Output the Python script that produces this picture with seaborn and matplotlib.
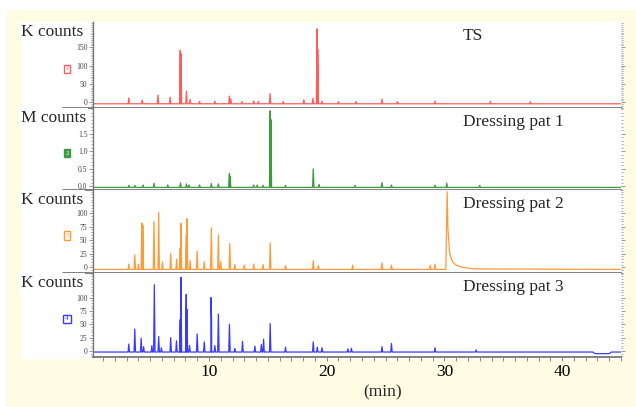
import matplotlib
matplotlib.use("Agg")
import matplotlib.pyplot as plt
import pandas as pd
import seaborn as sns
from matplotlib.patches import Rectangle
from matplotlib.lines import Line2D
from matplotlib.ticker import MultipleLocator, FormatStrFormatter

# peak retention times (min) and heights
ts_t = [3.19, 4.33, 5.67, 6.70, 7.56, 7.62, 8.09, 8.4, 9.2, 10.5, 11.74, 11.85, 12.8,
        13.8, 14.2, 15.19, 16.3, 18.06, 18.83, 19.18, 19.24, 19.6, 21.0, 22.5, 24.7,
        26.0, 29.2, 33.9, 37.3]
ts_h = [12, 6, 20, 14, 142, 133, 31, 8, 3, 3, 17, 9, 2,
        4, 3, 24, 2, 7, 11, 200, 145, 3, 2, 2, 9,
        2, 3, 3, 2]

p1_t = [3.2, 3.7, 4.4, 5.33, 6.5, 7.58, 8.09, 8.3, 9.2, 10.2, 10.8, 11.74, 11.8, 13.8,
        14.1, 14.6, 15.2, 15.26, 16.5, 18.86, 19.35, 22.4, 24.7, 25.5, 29.2, 30.2, 33.0]
p1_h = [0.02, 0.02, 0.03, 0.08, 0.03, 0.09, 0.06, 0.03, 0.03, 0.07, 0.06, 0.36, 0.28, 0.03,
        0.03, 0.02, 2.15, 1.9, 0.02, 0.49, 0.05, 0.02, 0.10, 0.03, 0.03, 0.08, 0.02]

p2_t = [3.19, 3.7, 4.0, 4.30, 4.38, 5.33, 5.73, 6.05, 6.75, 7.25, 7.55, 7.62, 8.08, 8.14,
        8.4, 9.0, 9.6, 10.2, 10.8, 11.0, 11.77, 12.2, 13.0, 13.8, 14.6, 15.2, 16.5,
        18.86, 19.3, 22.2, 24.7, 25.5, 28.8, 29.2]
p2_h = [6, 23, 6, 82, 78, 85, 102, 10, 25, 15, 35, 81, 60, 90,
        12, 30, 10, 73, 60, 10, 44, 5, 4, 6, 5, 45, 3,
        12, 3, 4, 8, 4, 4, 6]
# big late peak with its tailing
p2_tail_t = [30.12, 30.23, 30.3, 30.45, 30.7, 31.0, 31.5, 32.5]
p2_tail_h = [-4, 140, 70, 25, 10, 4, 0, -3]

p3_t = [3.19, 3.7, 4.24, 4.45, 5.15, 5.36, 5.73, 5.96, 6.75, 7.24, 7.56, 7.62, 8.07, 8.13,
        8.35, 9.0, 9.6, 10.17, 10.22, 10.5, 10.8, 11.74, 12.2, 12.85, 13.9, 14.45, 14.64,
        15.2, 16.5, 18.86, 19.2, 19.6, 21.8, 22.1, 24.7, 25.5, 29.2, 32.7]
p3_h = [13, 41, 24, 8, 10, 124, 27, 6, 25, 19, 59, 138, 106, 78,
        10, 32, 17, 100, 58, 10, 69, 50, 5, 18, 9, 12, 22,
        51, 7, 17, 7, 6, 4, 5, 8, 14, 6, 2]
p3_dip_t = [42.6, 42.8, 44.0, 44.2]
p3_dip_h = [-2, -5, -5, -2]

W, H = 636, 407


def fx(x):
    return x / W


def fy(y):
    return 1 - y / H


def trace(times, heights, base, extra_t=(), extra_h=(), w=0.06):
    xs = [0.0, 45.5]
    ys = [base, base]
    for t, h in zip(times, heights):
        xs += [t - w, t, t + w]
        ys += [base, h, base]
    xs += list(extra_t)
    ys += list(extra_h)
    return pd.DataFrame({"t": xs, "y": ys}).sort_values("t", kind="stable")


sns.set_theme(style="white")
plt.rcParams["font.family"] = ["Liberation Serif", "DejaVu Serif"]

fig = plt.figure(figsize=(6.36, 4.07), dpi=100, facecolor="white")
fig.patches.append(Rectangle((fx(7), 0), 1, fy(10), transform=fig.transFigure,
                             color="#fefde4", zorder=-10))
fig.patches.append(Rectangle((fx(22), fy(358)), fx(623) - fx(22), (358 - 22) / H,
                             transform=fig.transFigure, color="white", zorder=-9))

panels = [
    dict(top=22, bot=108, ylim=(-15.5, 219), major=50, minor=5, fmt="%d",
         df=trace(ts_t, ts_h, -4), color="#ff5c5c", unit="K counts", name="TS", num="1"),
    dict(top=108, bot=190, ylim=(-0.114, 2.23), major=0.5, minor=0.1, fmt="%.1f",
         df=trace(p1_t, p1_h, -0.04), color="#3c9c3c", unit="M counts",
         name="Dressing pat 1", num="2"),
    dict(top=190, bot=273, ylim=(-10.6, 143), major=25, minor=5, fmt="%d",
         df=trace(p2_t, p2_h, -4, p2_tail_t, p2_tail_h), color="#ff9a3a",
         unit="K counts", name="Dressing pat 2", num="3"),
    dict(top=273, bot=357, ylim=(-11.3, 146), major=25, minor=5, fmt="%d",
         df=trace(p3_t, p3_h, -2, p3_dip_t, p3_dip_h), color="#3a3aff",
         unit="K counts", name="Dressing pat 3", num="4"),
]

for i, p in enumerate(panels):
    ax = fig.add_axes([fx(93), fy(p["bot"]), fx(621) - fx(93), (p["bot"] - p["top"]) / H])
    sns.lineplot(data=p["df"], x="t", y="y", ax=ax, color=p["color"], linewidth=0.9,
                 estimator=None, sort=False, legend=False)
    ax.set_xlim(0.15, 45)
    ax.set_ylim(*p["ylim"])
    ax.set_xlabel("")
    ax.set_ylabel("")
    ax.set_facecolor("white")
    for s in ["top", "right"]:
        ax.spines[s].set_visible(False)
    ax.spines["left"].set_color("#777777")
    ax.spines["left"].set_linewidth(1.0)
    ax.spines["bottom"].set_color("#777777")
    ax.spines["bottom"].set_linewidth(1.3)

    ax.yaxis.set_major_locator(MultipleLocator(p["major"]))
    ax.yaxis.set_minor_locator(MultipleLocator(p["minor"]))
    ax.yaxis.set_major_formatter(FormatStrFormatter(p["fmt"]))
    ax.tick_params(axis="y", which="both", left=True, right=True, direction="out",
                   color="#888888", labelsize=5.5, labelcolor="#444444", pad=1)
    ax.tick_params(axis="y", which="major", length=3, width=0.6)
    ax.tick_params(axis="y", which="minor", length=1.6, width=0.5)
    ticks = [v for v in ax.get_yticks() if 0 <= v <= p["ylim"][1] * 0.8]
    ax.set_yticks(ticks)

    if i < 3:
        ax.tick_params(axis="x", which="both", bottom=False, labelbottom=False)
        fig.add_artist(Line2D([fx(63), fx(93)], [fy(p["bot"]), fy(p["bot"])],
                              color="#777777", lw=1.3, transform=fig.transFigure))
    else:
        ax.xaxis.set_major_locator(MultipleLocator(10))
        ax.xaxis.set_minor_locator(MultipleLocator(1))
        ax.tick_params(axis="x", which="both", bottom=True, direction="out",
                       color="#777777", length=3, width=0.6, labelsize=12.5,
                       labelcolor="black", pad=2)

    fig.text(fx(21), fy(p["top"] + 2), p["unit"], ha="left", va="top", fontsize=12.5,
             bbox=dict(boxstyle="square,pad=0.12", fc="white", ec="none"))
    fig.text(fx(463), fy(p["top"] + 6), p["name"], ha="left", va="top", fontsize=12.5,
             bbox=dict(boxstyle="square,pad=0.35", fc="white", ec="none"))
    filled = p["num"] == "2"
    fig.text(fx(67), fy((p["top"] + p["bot"]) / 2 + 4), p["num"], ha="center", va="center",
             fontsize=5, color="white" if filled else p["color"],
             bbox=dict(boxstyle="square,pad=0.25", fc=p["color"] if filled else "white",
                       ec=p["color"], lw=1.0))

fig.text(fx(383), fy(392), "(min)", ha="center", va="center", fontsize=12.5)

fig.savefig("out.png", dpi=100)
